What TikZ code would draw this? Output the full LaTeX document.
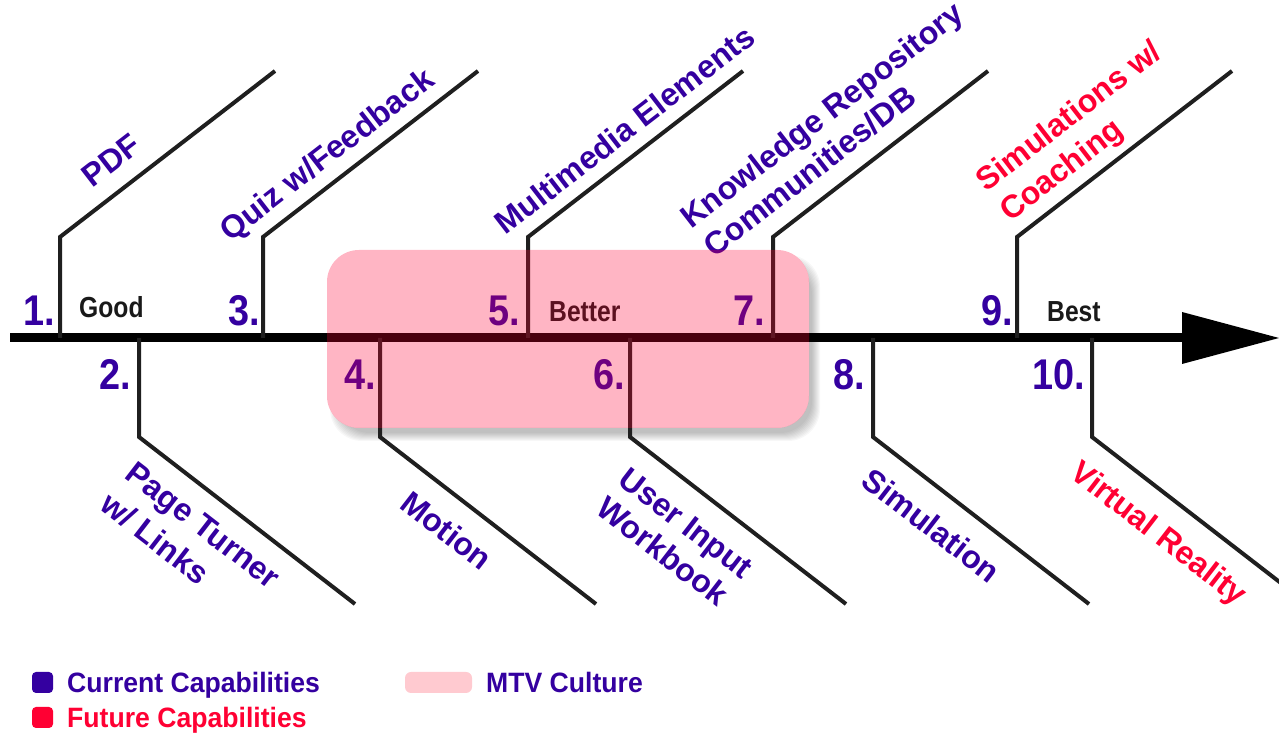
\documentclass[tikz,border=0pt]{standalone}
\usepackage{fontspec}
\setmainfont{Liberation Sans}
\newfontfamily\numfont{Liberation Sans}[FakeStretch=0.88]
\newfontfamily\qualfont{Liberation Sans}[FakeStretch=0.85]
\newfontfamily\legfont{Liberation Sans}[FakeStretch=0.95]
\usetikzlibrary{calc}
\definecolor{capblue}{RGB}{52,0,160}
\definecolor{capred}{RGB}{255,0,51}
\definecolor{mtvpink}{RGB}{255,202,208}
\begin{document}
\begin{tikzpicture}[x=1pt,y=1pt,
  spine/.style={line width=9pt, black, line cap=butt},
  bone/.style={line width=4pt, black!88, line join=miter, line cap=butt},
  lblbase/.style={font=\fontsize{32}{32}\selectfont\bfseries, text=capblue,
    inner sep=0pt, text height=23pt, text depth=0pt, anchor=center},
  upl/.style={lblbase, rotate=37.67},
  lowl/.style={lblbase, rotate=-37.67},
  num/.style={font=\numfont\fontsize{43}{43}\selectfont\bfseries, text=capblue,
    inner sep=0pt, anchor=base east},
  qual/.style={font=\qualfont\fontsize{29}{29}\selectfont\bfseries, text=black!90,
    inner sep=0pt, anchor=base west},
  legtext/.style={font=\legfont\fontsize{28}{28}\selectfont\bfseries,
    inner sep=0pt, anchor=base west},
  legmark/.style={rounded corners=4pt},
]
\useasboundingbox (0,0) rectangle (1279,735);
\clip (0,0) rectangle (1279,735);

% soft drop shadow of the MTV band, kept outside the band itself
\begin{scope}[even odd rule, rounded corners=32pt]
  \clip (-40,-40) rectangle (1319,775) (327,307) rectangle (809,485);
  \foreach \s in {-4,...,4}
    \fill[black, opacity=0.03]
      ({334-\s},{298-\s}) rectangle ({816+\s},{476+\s});
\end{scope}

% spine
\coordinate (tail) at (10,397);
\coordinate (head) at (1183,397);
\draw[spine] (tail) -- (head);
\fill (1182,423) -- (1279,397) -- (1182,371) -- cycle;

% upper bones: root on spine, bend, free end
\foreach \n/\x in {1/60, 3/263, 5/528, 7/773, 9/1017} {
  \coordinate (r\n) at (\x,397);
  \coordinate (k\n) at (\x,498);
  \coordinate (e\n) at ({\x+215},664);
  \draw[bone] (r\n) -- (k\n) -- (e\n);
}
% lower bones
\foreach \n/\x in {2/139, 4/380, 6/630, 8/873, 10/1092} {
  \coordinate (r\n) at (\x,397);
  \coordinate (k\n) at (\x,298);
  \coordinate (e\n) at ({\x+216},131);
  \draw[bone] (r\n) -- (k\n) -- (e\n);
}

% labels along the upper bones
\node[upl] (l1)  at ($(k1)+(37.67:87)+(127.67:30)$) {PDF};
\node[upl] (l3)  at ($(k3)+(37.67:101)+(127.67:27)$) {Quiz w/Feedback};
\node[upl] (l5)  at ($(k5)+(37.67:142)+(127.67:26)$) {Multimedia Elements};
\node[upl] (l7a) at ($(k7)+(37.67:113)+(127.67:67)$) {Knowledge Repository};
\node[upl] (l7b) at ($(k7)+(37.67:69)+(127.67:30)$) {Communities/DB};
\node[upl, text=capred] (l9a) at ($(k9)+(37.67:115)+(127.67:65)$) {Simulations w/};
\node[upl, text=capred] (l9b) at ($(k9)+(37.67:76)+(127.67:27)$) {Coaching};

% labels along the lower bones
\node[lowl] (l2a) at ($(k2)+(-37.67:105)+(-127.67:30)$) {Page Turner};
\node[lowl] (l2b) at ($(k2)+(-37.67:75)+(-127.67:70)$) {w/ Links};
\node[lowl] (l4)  at ($(k4)+(-37.67:110)+(-127.67:33)$) {Motion};
\node[lowl] (l6a) at ($(k6)+(-37.67:97)+(-127.67:33)$) {User Input};
\node[lowl] (l6b) at ($(k6)+(-37.67:96)+(-127.67:70)$) {Workbook};
\node[lowl] (l8)  at ($(k8)+(-37.67:100)+(-127.67:34)$) {Simulation};
\node[lowl, text=capred] (l10) at ($(k10)+(-37.67:112)+(-127.67:34)$) {Virtual Reality};

% step numbers
\node[num] (n1)  at (55,409)   {1.};
\node[num] (n3)  at (260,409)  {3.};
\node[num] (n5)  at (520,409)  {5.};
\node[num] (n7)  at (765,409)  {7.};
\node[num] (n9)  at (1013,409) {9.};
\node[num] (n2)  at (131,345)  {2.};
\node[num] (n4)  at (376,345)  {4.};
\node[num] (n6)  at (625,345)  {6.};
\node[num] (n8)  at (865,345)  {8.};
\node[num] (n10) at (1085,345) {10.};

% quality levels
\node[qual] (good)   at (79,417)   {Good};
\node[qual] (better) at (549,413)  {Better};
\node[qual] (best)   at (1047,413) {Best};

% MTV culture band, tinted over the bones beneath it
\node[fill=capred, fill opacity=0.29, rounded corners=32pt, inner sep=0pt,
  minimum width=482pt, minimum height=178pt] (mtv) at (568,396) {};

% legend
\fill[capblue, legmark] (32,42) rectangle (53,63);
\node[legtext, text=capblue] (legcur) at (67,42) {Current Capabilities};
\fill[capred, legmark] (32,7) rectangle (53,28);
\node[legtext, text=capred] (legfut) at (67,7) {Future Capabilities};
\fill[mtvpink, rounded corners=6pt] (405,42) rectangle (472,63);
\node[legtext, text=capblue] (legmtv) at (486,42) {MTV Culture};
\end{tikzpicture}
\end{document}
